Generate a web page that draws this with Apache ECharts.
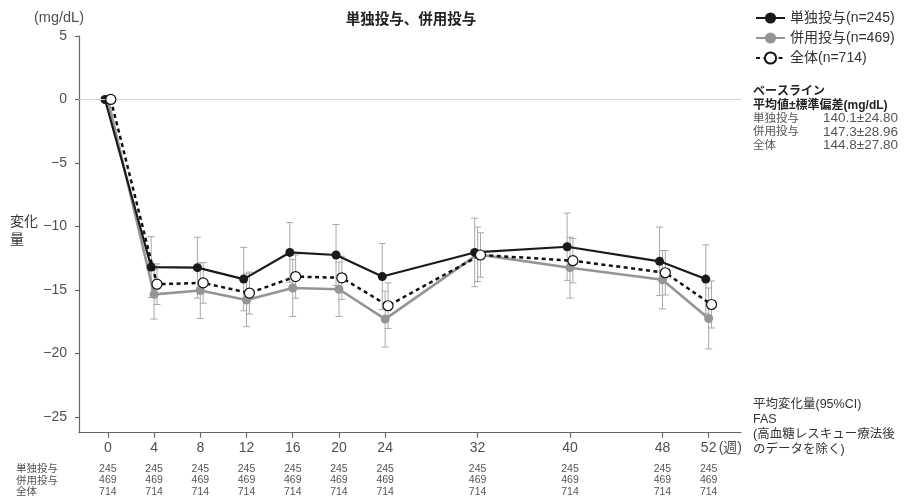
<!DOCTYPE html>
<html><head><meta charset="utf-8">
<script src="https://cdn.jsdelivr.net/npm/echarts@6/dist/echarts.min.js"></script>
<style>html,body{margin:0;padding:0;background:#fff}#c{width:904px;height:504px}</style>
</head><body><div id="c"></div>
<script>
// ---- data ----
const weeks = [0, 4, 8, 12, 16, 20, 24, 32, 40, 48, 52];
const yTicks = [5, 0, -5, -10, -15, -20, -25];
const monoName = '単独投与(n=245)';
const comboName = '併用投与(n=469)';
const totalName = '全体(n=714)';
const monoMean  = [0, -13.2, -13.25, -14.15, -12.05, -12.25, -13.95, -12.05, -11.6, -12.75, -14.15];
const monoLow   = [null, -15.6, -15.65, -16.65, -14.4, -14.65, -16.55, -14.75, -14.25, -15.45, -16.85];
const monoHigh  = [null, -10.8, -10.85, -11.65, -9.7, -9.85, -11.35, -9.35, -8.95, -10.05, -11.45];
const comboMean = [0, -15.35, -15.05, -15.8, -14.85, -14.95, -17.3, -12.2, -13.25, -14.2, -17.25];
const comboLow  = [null, -17.3, -17.25, -17.9, -17.1, -17.1, -19.5, -14.35, -15.65, -16.5, -19.65];
const comboHigh = [null, -13.4, -12.85, -13.7, -12.6, -12.8, -15.1, -10.05, -10.85, -11.9, -14.85];
const totalMean = [0, -14.55, -14.45, -15.25, -13.95, -14.05, -16.25, -12.25, -12.7, -13.65, -16.15];
const totalLow  = [null, -16.15, -16.05, -16.9, -15.65, -15.75, -18.05, -14.0, -14.45, -15.4, -18.0];
const totalHigh = [null, -12.95, -12.85, -13.6, -12.25, -12.35, -14.45, -10.5, -10.95, -11.9, -14.3];
const nMono  = [245, 245, 245, 245, 245, 245, 245, 245, 245, 245, 245];
const nCombo = [469, 469, 469, 469, 469, 469, 469, 469, 469, 469, 469];
const nTotal = [714, 714, 714, 714, 714, 714, 714, 714, 714, 714, 714];
const tableRowLabels = ['単独投与', '併用投与', '全体'];
const baselineRows = [['単独投与', '140.1±24.80'], ['併用投与', '147.3±28.96'], ['全体', '144.8±27.80']];
const noteLines = ['平均変化量(95%CI)', 'FAS', '(高血糖レスキュー療法後', 'のデータを除く)'];

// ---- styling ----
const FF = "'Liberation Sans','Noto Sans CJK JP',sans-serif";
const JP = "'Noto Sans CJK JP',sans-serif";
const AX = '#666';
const TXT = '#505050';
const ERR = '#a9a9a9';
const OFF = { mono: -0.25, combo: 0, total: 0.25 };

function pts(mean, off) { return weeks.map((w, i) => [w + off, mean[i]]); }
function errData(low, high, off) {
  const out = [];
  weeks.forEach((w, i) => { if (low[i] != null) out.push([w + off, low[i], high[i]]); });
  return out;
}
function errRender(params, api) {
  const x = api.value(0);
  const a = api.coord([x, api.value(1)]);
  const b = api.coord([x, api.value(2)]);
  const w = 3.5;
  const st = { stroke: ERR, lineWidth: 1 };
  return { type: 'group', children: [
    { type: 'line', shape: { x1: a[0], y1: a[1], x2: b[0], y2: b[1] }, style: st },
    { type: 'line', shape: { x1: a[0] - w, y1: a[1], x2: a[0] + w, y2: a[1] }, style: st },
    { type: 'line', shape: { x1: b[0] - w, y1: b[1], x2: b[0] + w, y2: b[1] }, style: st }
  ]};
}
function errSeries(low, high, off) {
  return { type: 'custom', renderItem: errRender, data: errData(low, high, off),
    encode: { x: 0, y: [1, 2] }, silent: true, z: 1, animation: false };
}
function tableAxis(counts, margin) {
  return { type: 'value', min: -2.5, max: 54.8, position: 'bottom',
    axisLine: { show: false, onZero: false }, axisTick: { show: false }, splitLine: { show: false },
    axisLabel: { customValues: weeks, margin: margin, fontSize: 10.5, color: '#555', fontFamily: FF,
      formatter: v => String(counts[weeks.indexOf(v)]) } };
}

const chart = echarts.init(document.getElementById('c'), null, { renderer: 'canvas' });
const option = {
  animation: false,
  textStyle: { fontFamily: FF },
  grid: { left: 79, right: 163, top: 36, bottom: 71.3, containLabel: false },
  legend: {
    data: [monoName, comboName, totalName], orient: 'vertical', left: 750, top: 6,
    itemWidth: 29, itemHeight: 14, itemGap: 6, textStyle: { fontSize: 14, color: '#333', fontFamily: FF }
  },
  xAxis: [
    { type: 'value', min: -2.5, max: 54.8, position: 'bottom',
      axisLine: { onZero: false, lineStyle: { color: AX, width: 1.2 } },
      axisTick: { show: true, length: 5, customValues: weeks, lineStyle: { color: AX, width: 1.2 } },
      axisLabel: { customValues: weeks, margin: 8, fontSize: 14, color: TXT, fontFamily: FF },
      splitLine: { show: false } },
    tableAxis(nMono, 31),
    tableAxis(nCombo, 42.5),
    tableAxis(nTotal, 54)
  ],
  yAxis: {
    type: 'value', min: -26.25, max: 5,
    axisLine: { show: true, onZero: false, lineStyle: { color: AX, width: 1.2 } },
    axisTick: { show: true, length: 4, customValues: yTicks, lineStyle: { color: AX, width: 1.2 } },
    axisLabel: { customValues: yTicks, margin: 12, fontSize: 14, color: TXT, fontFamily: FF,
      formatter: v => String(v).replace('-', '−') },
    splitLine: { show: false }
  },
  series: [
    errSeries(comboLow, comboHigh, OFF.combo),
    errSeries(monoLow, monoHigh, OFF.mono),
    errSeries(totalLow, totalHigh, OFF.total),
    { name: comboName, type: 'line', data: pts(comboMean, OFF.combo), z: 3,
      symbol: 'circle', symbolSize: 9, itemStyle: { color: '#959595' },
      lineStyle: { color: '#959595', width: 2.6 },
      markLine: { silent: true, symbol: 'none', label: { show: false },
        lineStyle: { color: '#d4d4d4', width: 1, type: 'solid' }, data: [{ yAxis: 0 }] } },
    { name: monoName, type: 'line', data: pts(monoMean, OFF.mono), z: 4,
      symbol: 'circle', symbolSize: 9, itemStyle: { color: '#1a1a1a' },
      lineStyle: { color: '#1a1a1a', width: 2.2 } },
    { name: totalName, type: 'line', data: pts(totalMean, OFF.total), z: 5,
      symbol: 'circle', symbolSize: 10, showAllSymbol: true,
      itemStyle: { color: '#ffffff', borderColor: '#111', borderWidth: 1.2 },
      lineStyle: { color: '#111', width: 2.5, type: [4, 3.5] } }
  ]
};
chart.setOption(option);

// ---- text overlays ----
const g = [];
g.push({ type: 'text', x: 411, y: 20, style: { text: '単独投与、併用投与', font: "bold 14.5px " + FF, fill: '#222', textAlign: 'center', textVerticalAlign: 'middle' } });
g.push({ type: 'text', x: 59, y: 18, style: { text: '(mg/dL)', font: "14.5px " + FF, fill: TXT, textAlign: 'center', textVerticalAlign: 'middle' } });
g.push({ type: 'text', x: 10, y: 221, style: { text: '変化', font: "14px " + JP, fill: '#333', textVerticalAlign: 'middle' } });
g.push({ type: 'text', x: 10, y: 239, style: { text: '量', font: "14px " + JP, fill: '#333', textVerticalAlign: 'middle' } });
const p52 = chart.convertToPixel({ xAxisIndex: 0, yAxisIndex: 0 }, [52, -26.25]);
g.push({ type: 'text', x: p52[0] + 10, y: 448, style: { text: '(週)', font: "14px " + FF, fill: TXT, textVerticalAlign: 'middle' } });
const rowY = [469.5, 481, 492.5];
tableRowLabels.forEach((t, i) => g.push({ type: 'text', x: 16, y: rowY[i], style: { text: t, font: "10.5px " + FF, fill: '#555', textVerticalAlign: 'middle' } }));
g.push({ type: 'text', x: 753, y: 92, style: { text: 'ベースライン', font: "bold 12px " + FF, fill: '#222', textVerticalAlign: 'middle' } });
g.push({ type: 'text', x: 753, y: 106, style: { text: '平均値±標準偏差(mg/dL)', font: "bold 12px " + FF, fill: '#222', textVerticalAlign: 'middle' } });
baselineRows.forEach((r, i) => {
  const y = 118.5 + i * 13.5;
  g.push({ type: 'text', x: 753, y: y, style: { text: r[0], font: "11.5px " + FF, fill: '#555', textVerticalAlign: 'middle' } });
  g.push({ type: 'text', x: 898, y: y, style: { text: r[1], font: "13.5px " + FF, fill: '#555', textAlign: 'right', textVerticalAlign: 'middle' } });
});
noteLines.forEach((t, i) => g.push({ type: 'text', x: 753, y: 405 + i * 14.7, style: { text: t, font: "12.5px " + FF, fill: '#333', textVerticalAlign: 'middle' } }));
chart.setOption({ graphic: g });
</script></body></html>
